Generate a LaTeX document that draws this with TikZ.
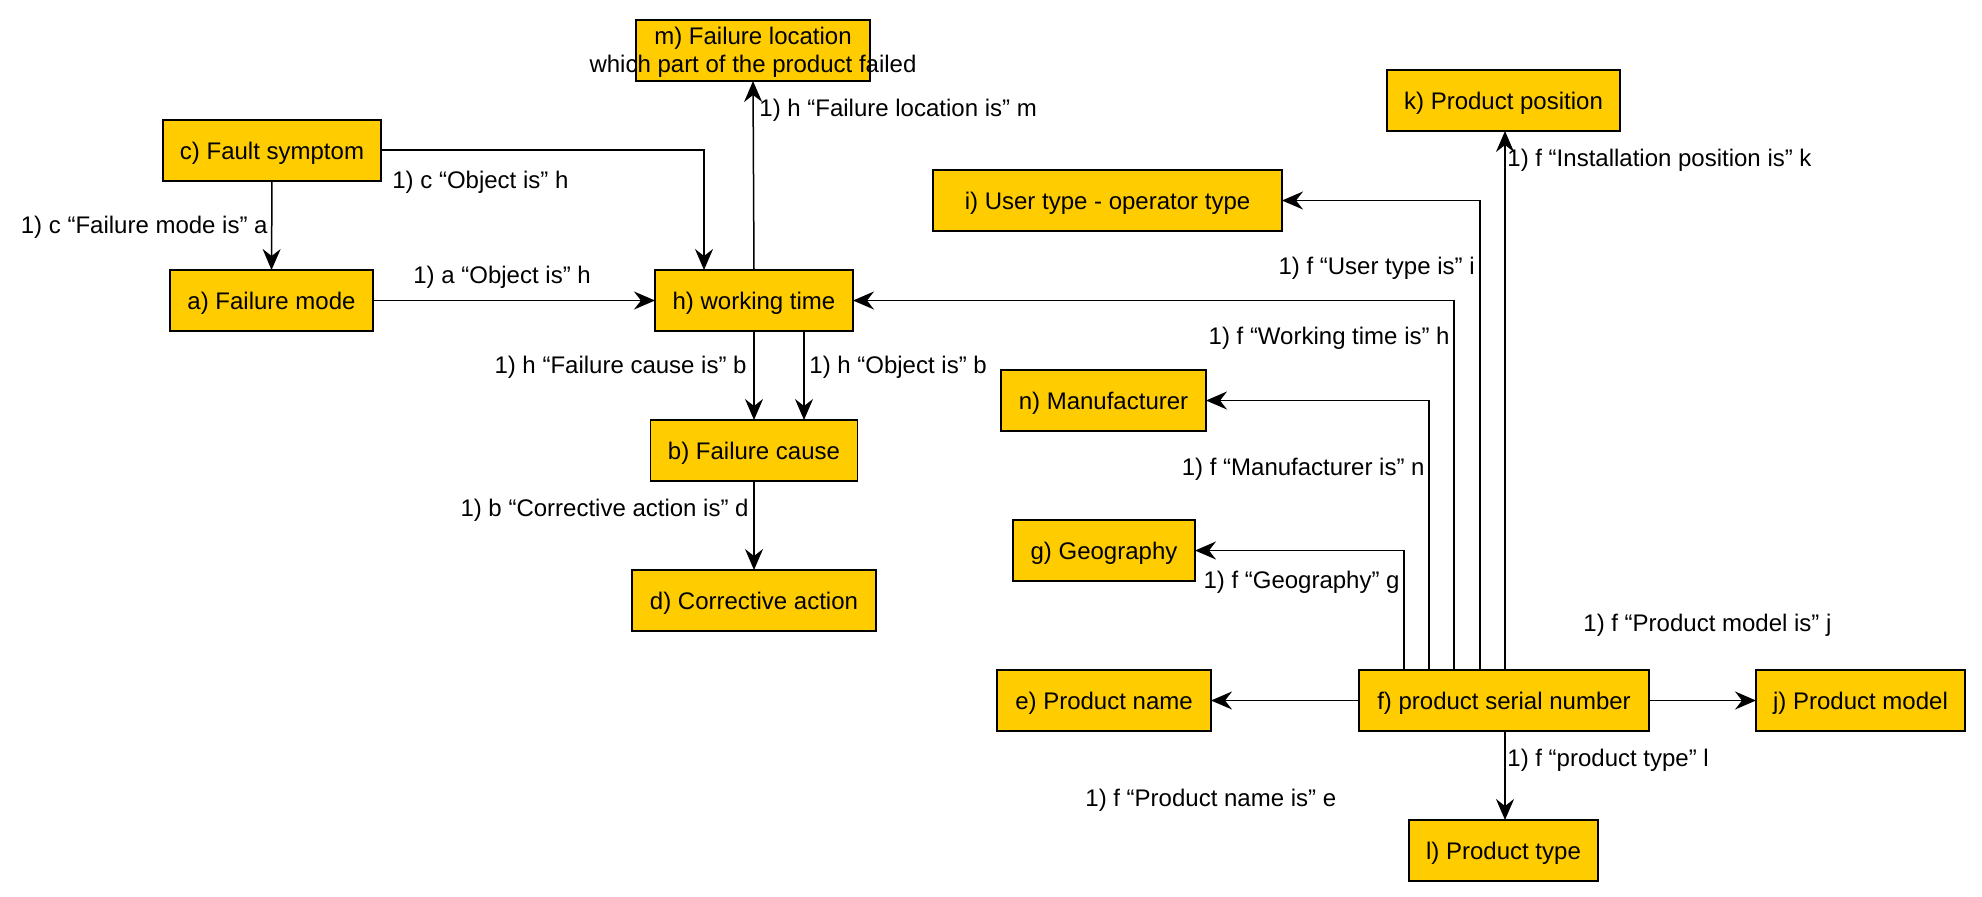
\documentclass[tikz,border=0pt]{standalone}
\usepackage{fontspec}
\setmainfont{Liberation Sans}
\usetikzlibrary{arrows.meta}
\definecolor{boxfill}{RGB}{255,204,0}
\begin{document}
\begin{tikzpicture}[x=0.5pt,y=-0.5pt,
  box/.style={draw=black, fill=boxfill, line width=0.9pt, minimum height=30.5pt, inner sep=0pt, outer sep=0pt, text height=10.5pt, text depth=1.5pt, font=\fontsize{12}{14}\selectfont},
  lbl/.style={inner sep=0pt, font=\fontsize{12}{14}\selectfont},
  conn/.style={draw=black, line width=0.75pt, -{Stealth[length=10.5pt,width=9pt,inset=3.5pt]}}]
\useasboundingbox (0,0) rectangle (1982,896);
% boxes
\node[box, minimum width=117pt] (m) at (753,50.5) {};
\node[lbl, align=center] (mtext) at (753,52) {m) Failure location\\which part of the product failed};
\node[box, minimum width=109pt] (c) at (272,150.5) {c) Fault symptom};
\node[box, minimum width=101.5pt] (a) at (271.5,300.5) {a) Failure mode};
\node[box, minimum width=99pt] (h) at (754,300.5) {h) working time};
\node[box, minimum width=103.5pt] (b) at (754,450.5) {b) Failure cause};
\node[box, minimum width=122pt] (d) at (754,600.5) {d) Corrective action};
\node[box, minimum width=116.5pt] (k) at (1503.5,100.5) {k) Product position};
\node[box, minimum width=174.5pt] (i) at (1107.5,200.5) {i) User type - operator type};
\node[box, minimum width=102.5pt] (n) at (1103.5,400.5) {n) Manufacturer};
\node[box, minimum width=91pt] (g) at (1104,550.5) {g) Geography};
\node[box, minimum width=107pt] (e) at (1104,700.5) {e) Product name};
\node[box, minimum width=145pt] (f) at (1504,700.5) {f) product serial number};
\node[box, minimum width=104.5pt] (j) at (1860.5,700.5) {j) Product model};
\node[box, minimum width=94.5pt] (l) at (1503.5,850.5) {l) Product type};
% connectors
\draw[conn] (c.south) -- (a.north);
\draw[conn] (c.east |- 0,150) -- (704,150) -- (704,0 |- h.north);
\draw[conn] (a.east) -- (h.west);
\draw[conn] (h.north) -- (m.south);
\draw[conn] (h.south) -- (b.north);
\draw[conn] (804,0 |- h.south) -- (804,0 |- b.north);
\draw[conn] (b.south) -- (d.north);
\draw[conn] (f.west) -- (e.east);
\draw[conn] (f.east) -- (j.west);
\draw[conn] (1505,0 |- f.south) -- (1505,0 |- l.north);
\draw[conn] (1505,0 |- f.north) -- (1505,0 |- k.south);
\draw[conn] (1480,0 |- f.north) -- (1480,200.5) -- (i.east);
\draw[conn] (1454,0 |- f.north) -- (1454,300.5) -- (h.east);
\draw[conn] (1429,0 |- f.north) -- (1429,400.5) -- (n.east);
\draw[conn] (1404,0 |- f.north) -- (1404,550.5) -- (g.east);
% labels
\node[lbl, anchor=east] (l1) at (268,227) {1) c “Failure mode is” a};
\node[lbl, anchor=west] (l2) at (392,182) {1) c “Object is” h};
\node[lbl, anchor=west] (l3) at (413,277) {1) a “Object is” h};
\node[lbl, anchor=west] (l4) at (759,110) {1) h “Failure location is” m};
\node[lbl, anchor=east] (l5) at (747,367) {1) h “Failure cause is” b};
\node[lbl, anchor=west] (l6) at (809,367) {1) h “Object is” b};
\node[lbl, anchor=east] (l7) at (749,510) {1) b “Corrective action is” d};
\node[lbl, anchor=west] (l8) at (1507,160) {1) f “Installation position is” k};
\node[lbl, anchor=east] (l9) at (1475,268) {1) f “User type is” i};
\node[lbl, anchor=east] (l10) at (1450,338) {1) f “Working time is” h};
\node[lbl, anchor=east] (l11) at (1425,469) {1) f “Manufacturer is” n};
\node[lbl, anchor=east] (l12) at (1400,582) {1) f “Geography” g};
\node[lbl, anchor=west] (l13) at (1583,625) {1) f “Product model is” j};
\node[lbl, anchor=west] (l14) at (1507,760) {1) f “product type” l};
\node[lbl, anchor=west] (l15) at (1085,800) {1) f “Product name is” e};
\end{tikzpicture}
\end{document}
